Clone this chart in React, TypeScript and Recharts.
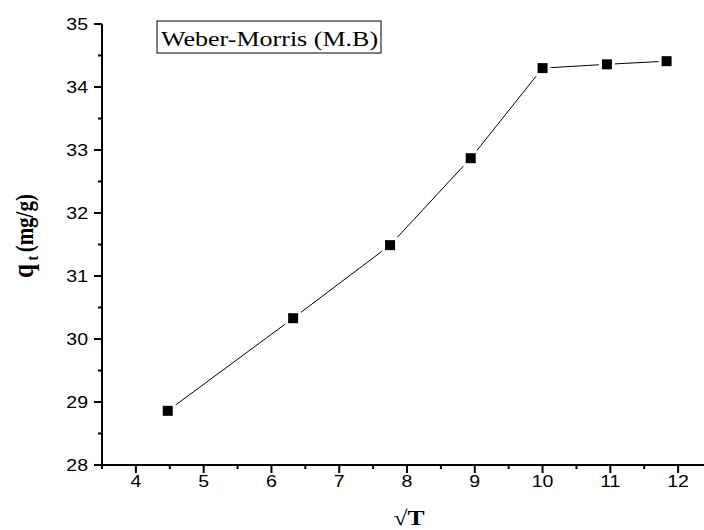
import { LineChart, Line, XAxis, YAxis } from 'recharts';

// sqrt(t) values and uptake
const sqrtT = [4.47, 6.32, 7.75, 8.94, 10.0, 10.95, 11.83];
const qt = [28.86, 30.33, 31.49, 32.87, 34.3, 34.36, 34.41];

const xTicks = [3.5, 4, 4.5, 5, 5.5, 6, 6.5, 7, 7.5, 8, 8.5, 9, 9.5, 10, 10.5, 11, 11.5, 12, 12.5];
const yTicks = [28, 28.5, 29, 29.5, 30, 30.5, 31, 31.5, 32, 32.5, 33, 33.5, 34, 34.5, 35];

const legendText = 'Weber-Morris (M.B)';

const chartData = sqrtT.map((x, i) => ({ x, q: qt[i] }));

const STRETCH = 1.22;
const tickFont = '"Liberation Sans", Arial, sans-serif';
const serif = '"Liberation Serif", "Times New Roman", serif';

const XTick = (props: any) => {
  const { x, y, payload } = props;
  const major = Number.isInteger(payload.value);
  return (
    <g>
      <line x1={x} x2={x} y1={y} y2={y + (major ? 8 : 4)} stroke="#000" strokeWidth={2} />
      {major && (
        <text
          transform={`translate(${x},${y + 22}) scale(${STRETCH},1)`}
          textAnchor="middle"
          fontSize={16}
          fontFamily={tickFont}
          fill="#000"
        >
          {payload.value}
        </text>
      )}
    </g>
  );
};

const YTick = (props: any) => {
  const { x, y, payload } = props;
  const major = Number.isInteger(payload.value);
  return (
    <g>
      <line x1={x - (major ? 8 : 4)} x2={x} y1={y} y2={y} stroke="#000" strokeWidth={2} />
      {major && (
        <text
          transform={`translate(${x - 14},${y + 6}) scale(${STRETCH},1)`}
          textAnchor="end"
          fontSize={16}
          fontFamily={tickFont}
          fill="#000"
        >
          {payload.value}
        </text>
      )}
    </g>
  );
};

const SquareDot = (props: any) => {
  const { cx, cy } = props;
  if (cx == null || cy == null) return null;
  return (
    <g>
      <rect x={cx - 8} y={cy - 8} width={16} height={16} fill="#fff" />
      <rect x={cx - 5} y={cy - 5} width={10} height={10} fill="#000" />
    </g>
  );
};

export default function App() {
  return (
    <div style={{ width: 704, height: 530, overflow: 'hidden', position: 'relative', background: '#fff' }}>
      <style>{'body{margin:0}'}</style>
      <LineChart width={720} height={530} data={chartData} margin={{ top: 24, right: 8, bottom: 0, left: 0 }}>
        <XAxis
          dataKey="x"
          type="number"
          domain={[3.5, 12.5]}
          ticks={xTicks}
          interval={0}
          height={65}
          tickSize={0}
          tickMargin={0}
          tick={<XTick />}
          axisLine={{ stroke: '#000', strokeWidth: 2 }}
          allowDataOverflow
        />
        <YAxis
          type="number"
          domain={[28, 35]}
          ticks={yTicks}
          interval={0}
          width={102}
          tickSize={0}
          tickMargin={0}
          tick={<YTick />}
          axisLine={{ stroke: '#000', strokeWidth: 2 }}
          allowDataOverflow
        />
        <Line
          type="linear"
          dataKey="q"
          stroke="#000"
          strokeWidth={1}
          dot={<SquareDot />}
          activeDot={false}
          isAnimationActive={false}
        />
        <rect x={157} y={21} width={224} height={32} fill="#fff" stroke="#000" strokeWidth={1} />
        <text
          transform={`translate(161,46) scale(1.24,1)`}
          fontSize={21}
          fontFamily={serif}
          fill="#000"
        >
          {legendText}
        </text>
        <text
          transform={`translate(33,236) scale(${STRETCH},1) rotate(-90)`}
          textAnchor="middle"
          fontFamily={serif}
          fontWeight="bold"
          fill="#000"
        >
          <tspan fontSize={25}>q</tspan>
          <tspan fontSize={14} dy={4}> t </tspan>
          <tspan fontSize={21} dy={-4}>(mg/g)</tspan>
        </text>
        <text
          transform={`translate(409,525) scale(${STRETCH},1)`}
          textAnchor="middle"
          fontFamily={serif}
          fontWeight="bold"
          fontSize={21}
          fill="#000"
        >
          √T
        </text>
      </LineChart>
    </div>
  );
}
